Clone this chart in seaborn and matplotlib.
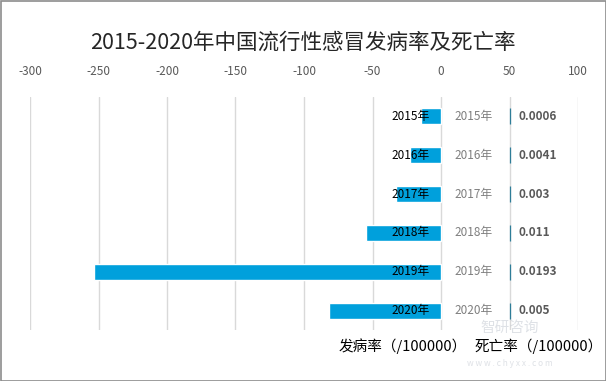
import matplotlib
matplotlib.use("Agg")
import matplotlib.pyplot as plt
import seaborn as sns
import pandas as pd
from matplotlib.patches import Rectangle

years = ["2015年", "2016年", "2017年", "2018年", "2019年", "2020年"]
incidence = [14.8, 22.6, 32.8, 54.8, 253.0, 81.7]
death = [0.0006, 0.0041, 0.003, 0.011, 0.0193, 0.005]
death_labels = ["0.0006", "0.0041", "0.003", "0.011", "0.0193", "0.005"]
xticks = [-300, -250, -200, -150, -100, -50, 0, 50, 100]

sns.set_theme(style="white")
plt.rcParams["font.family"] = ["Noto Sans CJK SC", "DejaVu Sans"]

df = pd.DataFrame({"year": years, "neg": [-v for v in incidence], "death": death})

fig = plt.figure(figsize=(6.06, 3.81), dpi=100)
ax = fig.add_axes([30/606, 1-330/381, 548/606, 233/381])

sns.barplot(data=df, y="year", x="neg", color="#00A0DC", saturation=1,
            width=0.41, ax=ax, orient="h")
ax.barh(range(len(years)), death, left=50, height=0.41, color="#1F6F8B",
        edgecolor="#2E7D98", linewidth=0.9)

ax.set_xlim(-300, 100)
ax.set_ylim(5.5, -0.5)
ax.set_xticks(xticks)
ax.set_xticklabels([str(t) for t in xticks])
ax.xaxis.tick_top()
ax.tick_params(axis="x", length=0, pad=14, labelsize=8.5, colors="#595959")
ax.set_yticks([])
ax.set_xlabel("")
ax.set_ylabel("")
ax.grid(axis="x", color="#D9D9D9", linewidth=1)
ax.set_axisbelow(True)
for s in ax.spines.values():
    s.set_visible(False)

for i, y in enumerate(years):
    ax.text(-8, i, y, ha="right", va="center", fontsize=8.5, color="#000000")
    ax.text(24, i, y, ha="center", va="center", fontsize=8.5, color="#7F7F7F")
    ax.text(56.5, i, death_labels[i], ha="left", va="center", fontsize=8.5,
            color="#595959", fontweight="bold")

fig.text(0.5, 1-43/381, "2015-2020年中国流行性感冒发病率及死亡率", ha="center",
         va="center", fontsize=15.5, color="#262626", fontweight="normal")

# watermark
fig.text(510/606, 1-328/381, "智研咨询", ha="center", va="center", fontsize=10.5,
         color="#C9CED6", alpha=0.6)
fig.text(510/606, 1-364/381, "w w w . c h y x x . c o m", ha="center", va="center",
         fontsize=6, color="#C9CED6", alpha=0.6)

fig.text(403/606, 1-346/381, "发病率（/100000）", ha="center", va="center",
         fontsize=10.5, color="#000000")
fig.text(539/606, 1-346/381, "死亡率（/100000）", ha="center", va="center",
         fontsize=10.5, color="#000000")

fig.patches.append(Rectangle((0.5/606, 0.5/381), 1-1/606, 1-1/381,
                             transform=fig.transFigure, fill=False,
                             edgecolor="#8C8C8C", linewidth=1.2))

fig.savefig("out.png", dpi=100)
